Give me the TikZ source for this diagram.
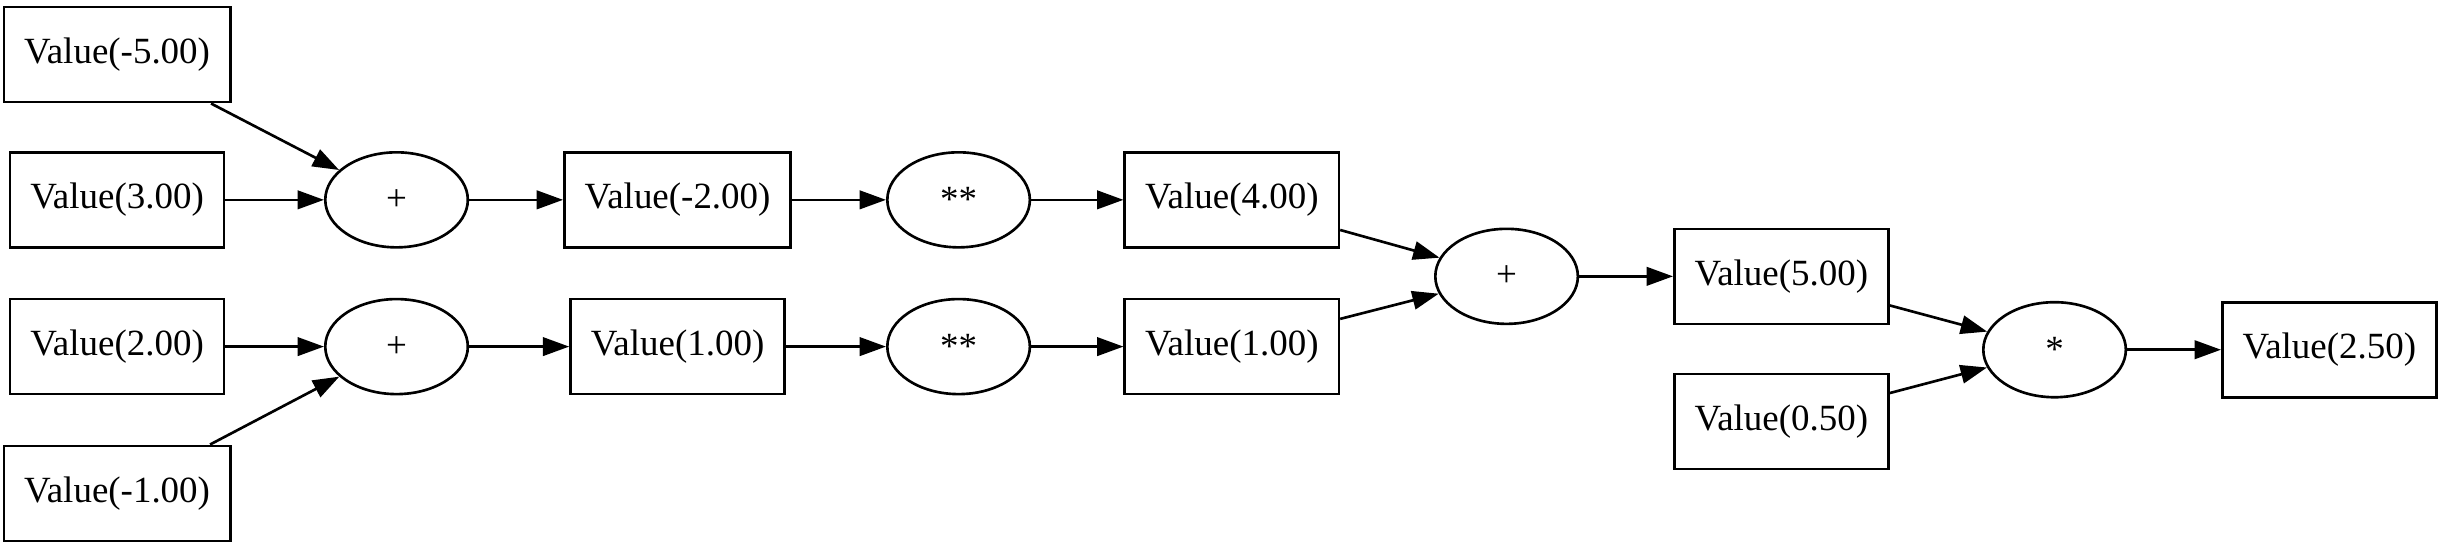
\documentclass[tikz,border=0pt]{standalone}
\usepackage{fontspec}
\setmainfont{Liberation Serif}
\usepackage{tikz}
\usetikzlibrary{arrows.meta,shapes.geometric}

\begin{document}
\begin{tikzpicture}[x=0.5914pt,y=-0.5914pt,>={Triangle[length=10pt,width=7pt]},
    val/.style={rectangle,draw,line width=1pt,minimum height=36pt,inner xsep=7.7pt,font=\fontsize{14}{16}\selectfont},
    op/.style={ellipse,draw,line width=1pt,minimum width=54pt,minimum height=36pt,inner sep=0pt,font=\fontsize{14}{16}\selectfont},
    edge/.style={->,line width=1pt}]
  \useasboundingbox (0,0) rectangle (1568,353.6);
  % leaves
  \node[val] (vm5) at (75,35) {Value(-5.00)};
  \node[val] (v3) at (75,128) {Value(3.00)};
  \node[val] (v2) at (75,222) {Value(2.00)};
  \node[val] (vm1) at (75,316) {Value(-1.00)};
  % first sums
  \node[op] (add1) at (254,128) {+};
  \node[op] (add2) at (254,222) {+};
  \node[val] (vm2) at (434,128) {Value(-2.00)};
  \node[val] (v1a) at (434,222) {Value(1.00)};
  % squares
  \node[op] (pow1) at (614,128) {**};
  \node[op] (pow2) at (614,222) {**};
  \node[val] (v4) at (789,128) {Value(4.00)};
  \node[val] (v1b) at (789,222) {Value(1.00)};
  % sum and product
  \node[op] (add3) at (965,177) {+};
  \node[val] (v5) at (1141,177) {Value(5.00)};
  \node[val] (v05) at (1141,270) {Value(0.50)};
  \node[op] (mul) at (1316,224) {*};
  \node[val] (v25) at (1492,224) {Value(2.50)};
  \draw[edge] (vm5) -- (add1);
  \draw[edge] (v3) -- (add1);
  \draw[edge] (v2) -- (add2);
  \draw[edge] (vm1) -- (add2);
  \draw[edge] (add1) -- (vm2);
  \draw[edge] (add2) -- (v1a);
  \draw[edge] (vm2) -- (pow1);
  \draw[edge] (v1a) -- (pow2);
  \draw[edge] (pow1) -- (v4);
  \draw[edge] (pow2) -- (v1b);
  \draw[edge] (v4) -- (add3);
  \draw[edge] (v1b) -- (add3);
  \draw[edge] (add3) -- (v5);
  \draw[edge] (v5) -- (mul);
  \draw[edge] (v05) -- (mul);
  \draw[edge] (mul) -- (v25);
\end{tikzpicture}
\end{document}
